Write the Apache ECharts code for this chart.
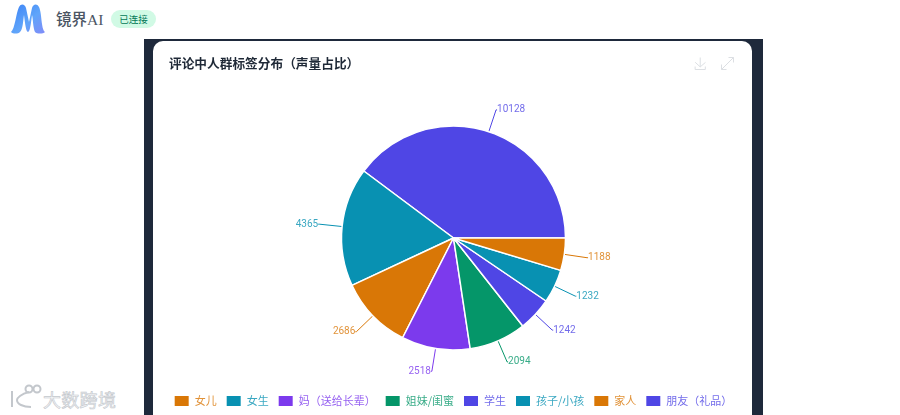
<!DOCTYPE html>
<html><head><meta charset="utf-8">
<script src="https://cdn.jsdelivr.net/npm/echarts@6/dist/echarts.min.js"></script>
<style>
html,body{margin:0;padding:0;width:900px;height:415px;overflow:hidden;background:#fff;font-family:"Noto Sans CJK SC",sans-serif}
#frame{position:absolute;left:144px;top:39px;width:619px;height:500px;background:#1e293b}
#card{position:absolute;left:153px;top:41px;width:599px;height:420px;background:#fff;border-radius:10px;overflow:hidden}
#chart{width:599px;height:420px;filter:blur(.35px)}
#brand{position:absolute;left:56px;top:9px;font-size:15.5px;line-height:22px;color:#4b5563;font-weight:500;font-family:"Liberation Serif","Noto Sans CJK SC",serif}
#badge{position:absolute;left:111px;top:10px;width:45px;height:18px;border-radius:9px;background:#d1fae5;color:#047857;font-size:9.5px;line-height:18px;text-align:center}
#logo{position:absolute;left:10px;top:3px}
#mark{position:absolute;left:9px;top:383px;width:112px;height:30px;color:#e5e7eb}
#wm{position:absolute;left:43px;top:388px;font-size:18px;line-height:22px;color:#f3f4f6;-webkit-text-stroke:.6px #c3c7cc;letter-spacing:.3px}
</style></head><body>
<svg id="logo" width="36" height="31" viewBox="0 0 36 31">
<defs><linearGradient id="g" x1="0" y1="0" x2="1" y2="1"><stop offset="0" stop-color="#3b82f6"/><stop offset=".55" stop-color="#60a5fa"/><stop offset="1" stop-color="#818cf8"/></linearGradient></defs>
<path d="M1 29 C5 26 6 10 9 4 C11 0 15 1 16 5 L19 19 L22 5 C23 1 27 0 29 4 C32 10 31 26 35 29 C33 31 27 31 25 29 C23 25 23 15 22 12 C21 20 20 29 18 29 C16 29 15 20 14 12 C13 18 13 26 10 29 C8 31 3 31 1 29Z" fill="url(#g)"/>
</svg>
<div id="brand">镜界AI</div>
<div id="badge">已连接</div>
<div id="frame"></div>
<div id="card"><div id="chart"></div></div>
<svg id="mark" viewBox="0 0 34 30" style="width:34px;height:30px"><g fill="none" stroke="#c3c7cc" stroke-width="2"><path d="M3 8 L3 24"/><path d="M20 9 C12 11 8 15 8 17 C8 21 14 24 22 24"/><circle cx="20" cy="6" r="3.5"/><circle cx="28" cy="6" r="3.5"/></g></svg>
<div id="wm">大数跨境</div>
<script>
const titleText = '评论中人群标签分布（声量占比）';
const legendOrder = ['女儿','女生','妈（送给长辈）','姐妹/闺蜜','学生','孩子/小孩','家人','朋友（礼品）'];
const sliceNames = ['朋友（礼品）','女生','女儿','妈（送给长辈）','姐妹/闺蜜','学生','孩子/小孩','家人'];
const sliceValues = [10128,4365,2686,2518,2094,1242,1232,1188];
const sliceColors = ['#4f46e5','#0891b2','#d97706','#7c3aed','#059669','#4f46e5','#0891b2','#d97706'];
const chart = echarts.init(document.getElementById('chart'));
chart.setOption({
  animation:false,
  title:{text:titleText,left:11,top:11,textStyle:{fontSize:12.7,fontWeight:'bold',color:'#1f2937',fontFamily:'"Noto Sans CJK SC"'}},
  toolbox:{right:1,top:-1,itemSize:12,itemGap:11,iconStyle:{borderColor:'#dcdfe3',color:'none'},feature:{
    saveAsImage:{title:''},
    myFull:{show:true,title:'',icon:'path://M2 14 L14 2 M9 2 L14 2 L14 7 M2 9 L2 14 L7 14',onclick:function(){}}
  }},
  legend:{data:legendOrder,top:348,left:'center',icon:'rect',itemWidth:16,itemHeight:12,itemGap:8,
    textStyle:{fontSize:11,fontFamily:'"Noto Sans CJK SC"',color:'inherit',opacity:.8}},
  series:[{type:'pie',center:[300.5,197],radius:[0,112],startAngle:0,clockwise:false,
    data:sliceNames.map((n,i)=>({name:n,value:sliceValues[i],itemStyle:{color:sliceColors[i]}})),
    itemStyle:{borderColor:'#fff',borderWidth:1.5},
    label:{show:true,formatter:'{c}',fontSize:10,distanceToLabelLine:0,opacity:.8,fontFamily:'Roboto',color:'inherit'},
    labelLine:{show:true,length:23,length2:1,lineStyle:{width:1}}
  }]
});
</script>
</body></html>
